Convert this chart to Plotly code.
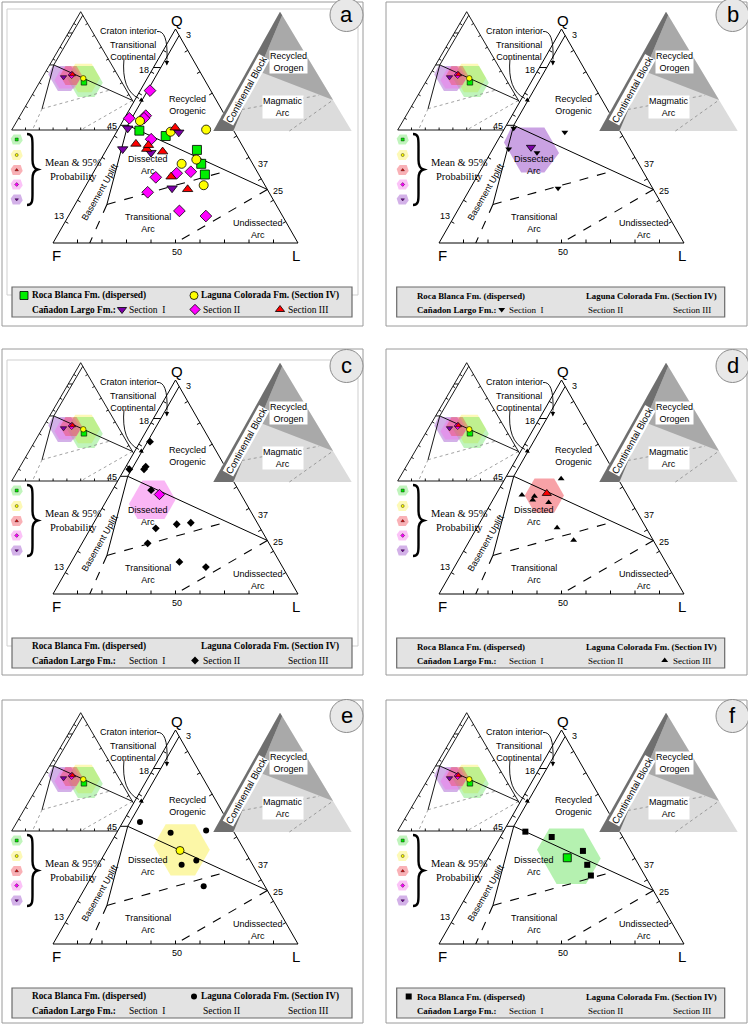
import plotly.graph_objects as go

W, H = 748, 1027

# ---------------- data : Q, F, L (%) ----------------
RB_Q = [52.5, 50.0, 43.5, 37.0, 32.0]
RB_F = [38.5, 29.0, 19.5, 21.0, 22.0]
RB_L = [9.0, 21.0, 37.0, 42.0, 46.0]

LC_Q = [57.0, 52.0, 53.0, 39.0, 37.0, 27.0]
LC_F = [36.0, 26.0, 11.0, 22.0, 29.0, 25.0]
LC_L = [7.0, 22.0, 36.0, 39.0, 34.0, 48.0]

S1_Q = [53.6, 51.7, 43.9, 42.2, 25.6]
S1_F = [42.7, 22.8, 49.6, 38.9, 38.6]
S1_L = [3.7, 25.5, 6.5, 18.9, 35.8]

S2_Q = [71.2, 58.3, 59.5, 58.3, 48.5, 30.7, 32.6, 33.3, 23.7, 15.0, 12.6]
S2_F = [24.8, 39.7, 32.4, 33.7, 35.7, 42.7, 33.2, 27.1, 49.5, 40.9, 31.3]
S2_L = [4.0, 2.0, 8.1, 8.0, 15.8, 26.6, 34.2, 39.6, 26.8, 44.1, 56.1]

S3_Q = [53.9, 46.3, 43.9, 45.7, 42.7, 31.0, 25.1]
S3_F = [23.2, 43.0, 39.8, 38.2, 33.9, 36.3, 32.5]
S3_L = [22.9, 10.7, 16.3, 16.1, 23.4, 32.7, 42.4]

GROUPS = ["RB", "LC", "S1", "S2", "S3"]
MEAN_Q = [40.3, 43.7, 44.7, 46.5, 47.0]
MEAN_F = [27.5, 26.3, 40.1, 33.3, 32.5]
MEAN_L = [32.2, 30.0, 15.2, 20.2, 20.5]

# 95% probability regions (hexagon vertices)
HEX_RB_Q = [54, 54, 40, 28, 28, 44]
HEX_RB_F = [28, 14, 14, 26, 38, 38]
HEX_RB_L = [18, 32, 46, 46, 34, 18]
HEX_LC_Q = [56, 56, 44, 32, 32, 46]
HEX_LC_F = [26, 14, 14, 26, 36, 36]
HEX_LC_L = [18, 30, 42, 42, 32, 18]
HEX_S1_Q = [54, 54, 42, 33, 33, 47]
HEX_S1_F = [43.5, 30, 30, 40.5, 50, 50]
HEX_S1_L = [2.5, 16, 28, 26.5, 17, 3]
HEX_S2_Q = [53, 53, 44, 35, 35, 42]
HEX_S2_F = [37, 28, 28, 37, 48, 48]
HEX_S2_L = [10, 19, 28, 28, 17, 10]
HEX_S3_Q = [54, 54, 46, 38, 38, 46]
HEX_S3_F = [34, 26, 26, 34, 42, 42]
HEX_S3_L = [12, 20, 28, 28, 20, 12]

# Dickinson QFL field boundaries (Q, F, L)
FIELD_SOLID = [[(97, 0, 3), (55, 42, 3)], [(82, 18, 0), (82, 15, 3)],
               [(55, 45, 0), (55, 42, 3)], [(55, 42, 3), (25, 0, 75)],
               [(55, 42, 3), (18, 69, 13)]]
FIELD_DASH = [[(18, 69, 13), (0, 85, 15)], [(18, 69, 13), (33.7, 12.1, 54.2)],
              [(25, 0, 75), (0, 50, 50)]]

PANEL_LETTERS = ["a", "b", "c", "d", "e", "f"]
PANEL_GROUP = [None, "S1", "S2", "S3", "LC", "RB"]

DATA = {"RB": (RB_Q, RB_F, RB_L), "LC": (LC_Q, LC_F, LC_L), "S1": (S1_Q, S1_F, S1_L),
        "S2": (S2_Q, S2_F, S2_L), "S3": (S3_Q, S3_F, S3_L)}
HEXES = {"RB": (HEX_RB_Q, HEX_RB_F, HEX_RB_L), "LC": (HEX_LC_Q, HEX_LC_F, HEX_LC_L),
         "S1": (HEX_S1_Q, HEX_S1_F, HEX_S1_L), "S2": (HEX_S2_Q, HEX_S2_F, HEX_S2_L),
         "S3": (HEX_S3_Q, HEX_S3_F, HEX_S3_L)}

# ---------------- styles ----------------
SANS = "Arial, 'Liberation Sans', sans-serif"
SERIF = "'Times New Roman', 'Liberation Serif', serif"
SYM = {"RB": "square", "LC": "circle", "S1": "triangle-down", "S2": "diamond", "S3": "triangle-up"}
COL = {"RB": "#00ee00", "LC": "#ffff00", "S1": "#7d00aa", "S2": "#ff00ff", "S3": "#ff0000"}
HFILL = {"RB": "rgba(90,225,80,0.38)", "LC": "rgba(250,240,80,0.42)", "S1": "rgba(150,70,200,0.42)",
         "S2": "rgba(245,110,235,0.42)", "S3": "rgba(240,70,80,0.42)"}

MAIN = {"Q": (175.5, 29.0), "F": (53.0, 243.0), "L": (298.0, 243.0)}
INSET = {"Q": (80.7, 11.7), "F": (11.7, 130.0), "L": (149.7, 130.0)}
CBT = {"Q": (280.0, 11.7), "F": (213.3, 131.0), "L": (351.7, 131.0)}

OFFX = [0, 386, 0, 386, 0, 386]
OFFY = [0, 0, 351, 351, 701, 701]
BORDER = [(2, 2, 363, 326), (386, 2, 747, 326), (2, 349, 363, 675),
          (386, 349, 747, 675), (2, 700, 363, 1023), (386, 700, 747, 1023)]

fig = go.Figure()
shapes = []
anns = []


def tp(tri, q, f, l, ox, oy):
    s = q + f + l
    x = (tri["Q"][0] * q + tri["F"][0] * f + tri["L"][0] * l) / s + ox
    y = (tri["Q"][1] * q + tri["F"][1] * f + tri["L"][1] * l) / s + oy
    return x, y


def lines(segs, color="black", width=1.0, dash="solid"):
    xs, ys = [], []
    for sg in segs:
        for (x, y) in sg:
            xs.append(x)
            ys.append(y)
        xs.append(None)
        ys.append(None)
    fig.add_trace(go.Scatter(x=xs, y=ys, mode="lines", hoverinfo="skip",
                             line=dict(color=color, width=width, dash=dash)))


def poly(pts, fill, lc="rgba(0,0,0,0)", lw=0):
    xs = [p[0] for p in pts] + [pts[0][0]]
    ys = [p[1] for p in pts] + [pts[0][1]]
    fig.add_trace(go.Scatter(x=xs, y=ys, mode="lines", fill="toself", fillcolor=fill,
                             hoverinfo="skip", line=dict(color=lc, width=lw)))


def markers(xs, ys, sym, color, size, lw=0.8):
    fig.add_trace(go.Scatter(x=xs, y=ys, mode="markers", hoverinfo="skip",
                             marker=dict(symbol=sym, color=color, size=size,
                                         line=dict(color="black", width=lw))))


def txt(x, y, s, size=9, family=SANS, xa="center", ya="middle", angle=0, bg=None, color="black"):
    d = dict(x=x, y=y, xref="x", yref="y", text=s, showarrow=False,
             font=dict(size=size, family=family, color=color), xanchor=xa, yanchor=ya,
             textangle=angle, borderpad=0)
    if bg:
        d["bgcolor"] = bg
    anns.append(d)


def ticks(tri, ox, oy, n=10, ln=3.5):
    cs = [tri["F"], tri["L"], tri["Q"]]
    cx = sum(c[0] for c in cs) / 3
    cy = sum(c[1] for c in cs) / 3
    segs = []
    for a, b in [(tri["F"], tri["L"]), (tri["L"], tri["Q"]), (tri["Q"], tri["F"])]:
        dx, dy = b[0] - a[0], b[1] - a[1]
        d = (dx * dx + dy * dy) ** 0.5
        nx, ny = -dy / d, dx / d
        for i in range(1, n):
            t = i / n
            px, py = a[0] + t * dx, a[1] + t * dy
            if (cx - px) * nx + (cy - py) * ny < 0:
                nx, ny = -nx, -ny
            segs.append([(px + ox, py + oy), (px + ox + nx * ln, py + oy + ny * ln)])
    return segs


def outline(tri, ox, oy):
    pts = [tri["Q"], tri["F"], tri["L"], tri["Q"]]
    return [[(p[0] + ox, p[1] + oy) for p in pts]]


for k in range(6):
    ox, oy = OFFX[k], OFFY[k]
    grp = PANEL_GROUP[k]
    bx0, by0, bx1, by1 = BORDER[k]
    shapes.append(dict(type="rect", x0=bx0, y0=by0, x1=bx1, y1=by1, xref="x", yref="y",
                       line=dict(color="#9a9a9a", width=1), layer="below"))
    if k in (0, 2):
        shapes.append(dict(type="rect", x0=7 + ox, y0=9 + oy, x1=358 + ox, y1=295 + oy,
                           xref="x", yref="y", line=dict(color="#cfcfcf", width=1), layer="below"))

    # ---------- inset (means & 95% regions) ----------
    poly([tp(INSET, *p, ox, oy) for p in [(100, 0, 0), (0, 100, 0), (0, 0, 100)]], "white")
    for g in ["S1", "LC", "RB", "S2", "S3"]:
        hq, hf, hl = HEXES[g]
        poly([tp(INSET, hq[i], hf[i], hl[i], ox, oy) for i in range(len(hq))], HFILL[g])
    lines([[tp(INSET, *a, ox, oy), tp(INSET, *b, ox, oy)] for a, b in FIELD_DASH],
          color="#8a8a8a", width=0.8, dash="dot")
    lines([[tp(INSET, *a, ox, oy), tp(INSET, *b, ox, oy)] for a, b in FIELD_SOLID]
          + outline(INSET, ox, oy) + ticks(INSET, ox, oy, ln=2.5), width=0.9)
    for i, g in enumerate(GROUPS):
        x, y = tp(INSET, MEAN_Q[i], MEAN_F[i], MEAN_L[i], ox, oy)
        markers([x], [y], SYM[g], COL[g], 5.5, 0.6)

    # ---------- main QFL triangle ----------
    poly([tp(MAIN, *p, ox, oy) for p in [(100, 0, 0), (0, 100, 0), (0, 0, 100)]], "white")
    if grp:
        hq, hf, hl = HEXES[grp]
        poly([tp(MAIN, hq[i], hf[i], hl[i], ox, oy) for i in range(len(hq))],
             HFILL[grp].replace("0.42", "0.5").replace("0.38", "0.45"))
    lines([[tp(MAIN, *a, ox, oy), tp(MAIN, *b, ox, oy)] for a, b in FIELD_DASH],
          width=1.1, dash="dash")
    lines([[tp(MAIN, *a, ox, oy), tp(MAIN, *b, ox, oy)] for a, b in FIELD_SOLID]
          + outline(MAIN, ox, oy) + ticks(MAIN, ox, oy, ln=3.5), width=1.0)

    # points
    if grp is None:
        for g in ["S2", "RB", "LC", "S1", "S3"]:
            q, f, l = DATA[g]
            pts = [tp(MAIN, q[i], f[i], l[i], ox, oy) for i in range(len(q))]
            markers([p[0] for p in pts], [p[1] for p in pts], SYM[g], COL[g], 9, 0.8)
    else:
        q, f, l = DATA[grp]
        pts = [tp(MAIN, q[i], f[i], l[i], ox, oy) for i in range(len(q))]
        markers([p[0] for p in pts], [p[1] for p in pts], SYM[grp], "black", 6, 0)
        gi = GROUPS.index(grp)
        x, y = tp(MAIN, MEAN_Q[gi], MEAN_F[gi], MEAN_L[gi], ox, oy)
        markers([x], [y], SYM[grp], COL[grp], 8, 0.8)

    # ---------- tectonic setting triangle ----------
    poly([tp(CBT, *p, ox, oy) for p in [(100, 0, 0), (0, 100, 0), (0, 0, 100)]], "#dcdcdc")
    poly([tp(CBT, *p, ox, oy) for p in [(97, 0, 3), (50, 41.4, 8.6), (26, 0, 74)]], "#a9a9a9")
    poly([tp(CBT, *p, ox, oy) for p in [(100, 0, 0), (0, 100, 0), (0, 85.5, 14.5), (97, 0, 3)]], "#6f6f6f")
    lines([[tp(CBT, 18, 70, 12, ox, oy), tp(CBT, 30, 8, 62, ox, oy)],
           [tp(CBT, 0, 45, 55, ox, oy), tp(CBT, 26, 0, 74, ox, oy)]], color="#8a8a8a", width=0.8, dash="dot")
    txt(288 + ox, 62 + oy, "Recycled<br>Orogen", 9, bg="white")
    txt(283.3 + ox, 106.7 + oy, "Magmatic<br>Arc", 9, bg="white")
    txt(245.5 + ox, 90 + oy, "Continental Block", 9.5, angle=-61, bg="white")

    # ---------- main labels ----------
    txt(177 + ox, 20 + oy, "Q", 15)
    txt(56.7 + ox, 255 + oy, "F", 15)
    txt(295.7 + ox, 255 + oy, "L", 15)
    for s, x, y in [("3", 188, 35), ("18", 144.3, 70), ("45", 111.7, 126), ("13", 59.3, 216),
                    ("37", 263.3, 164.3), ("25", 278.3, 191), ("50", 176.7, 252.3)]:
        txt(x + ox, y + oy, s, 9)
    txt(128.3 + ox, 30.7 + oy, "Craton interior", 9)
    txt(132.7 + ox, 50.7 + oy, "Transitional<br>Continental", 9)
    txt(187.3 + ox, 105 + oy, "Recycled<br>Orogenic", 9)
    txt(148.3 + ox, 165 + oy, "Dissected<br>Arc", 9)
    txt(147.7 + ox, 223.3 + oy, "Transitional<br>Arc", 9)
    txt(257.7 + ox, 229.3 + oy, "Undissected<br>Arc", 9)
    txt(100 + ox, 192 + oy, "Basement Uplift", 9, angle=-60)

    # arrows
    shapes.append(dict(type="path", xref="x", yref="y", layer="above",
                       path=f"M {157+ox},{31.5+oy} Q {168+ox},{30+oy} {167+ox},{59+oy}",
                       line=dict(color="black", width=0.9)))
    anns.append(dict(x=166.8 + ox, y=65.5 + oy, ax=167 + ox, ay=58 + oy, xref="x", yref="y",
                     axref="x", ayref="y", text="", showarrow=True, arrowhead=2,
                     arrowsize=1, arrowwidth=0.9, arrowcolor="black"))
    shapes.append(dict(type="path", xref="x", yref="y", layer="above",
                       path=f"M {124+ox},{58.5+oy} Q {121+ox},{90+oy} {139+ox},{98.5+oy}",
                       line=dict(color="black", width=0.9)))
    anns.append(dict(x=143.8 + ox, y=101.8 + oy, ax=138.5 + ox, ay=98.2 + oy, xref="x", yref="y",
                     axref="x", ayref="y", text="", showarrow=True, arrowhead=2,
                     arrowsize=1, arrowwidth=0.9, arrowcolor="black"))

    # ---------- mean & 95% key ----------
    for j, g in enumerate(["RB", "LC", "S3", "S2", "S1"]):
        cy = [139.5, 155, 170, 184.5, 199.5][j] + oy
        cx = 16.7 + ox
        hexp = [(cx - 6, cy - 1), (cx - 3, cy - 5), (cx + 4, cy - 5), (cx + 6, cy + 1),
                (cx + 3, cy + 5), (cx - 4, cy + 5)]
        poly(hexp, HFILL[g])
        markers([cx], [cy], SYM[g], COL[g], 3, 0.4)
    shapes.append(dict(type="path", xref="x", yref="y", layer="above",
                       path=(f"M {27+ox},{134+oy} C {33+ox},{134+oy} {32.5+ox},{139+oy} {32.5+ox},{149+oy} "
                             f"L {32.5+ox},{160+oy} C {32.5+ox},{166+oy} {34+ox},{168.5+oy} {37.5+ox},{169.5+oy} "
                             f"C {34+ox},{170.5+oy} {32.5+ox},{173+oy} {32.5+ox},{179+oy} "
                             f"L {32.5+ox},{191+oy} C {32.5+ox},{200+oy} {33+ox},{205+oy} {27+ox},{205+oy}"),
                       line=dict(color="black", width=2.4)))
    txt(44 + ox, 169.5 + oy, "Mean &amp; 95%<br>Probability", 10.5, family=SERIF, xa="left")

    # ---------- letter circle ----------
    shapes.append(dict(type="circle", xref="x", yref="y", x0=330 + ox, y0=-1.5 + oy,
                       x1=363 + ox, y1=31.5 + oy, fillcolor="#e8e8e8",
                       line=dict(color="#8c8c8c", width=1), layer="above"))
    txt(346.5 + ox, 14.5 + oy, PANEL_LETTERS[k], 22)

    # ---------- legend box ----------
    left_col = (k % 2 == 0)
    bxl = 12 + ox if left_col else 10.7 + ox
    bxr = 352 + ox if left_col else 338.7 + ox
    fs = 9.3 if left_col else 8.8
    shapes.append(dict(type="rect", xref="x", yref="y", x0=bxl, y0=287 + oy, x1=bxr, y1=317 + oy,
                       fillcolor="#e3e3e3", line=dict(color="#6a6a6a", width=1.2), layer="below"))
    r1, r2 = 295.5 + oy, 309.5 + oy
    s1x = 116 if left_col else 111
    txt(bxl + 19, r1, "<b>Roca Blanca Fm. (dispersed)</b>", fs, family=SERIF, xa="left")
    txt(bxl + 188, r1, "<b>Laguna Colorada Fm. (Section IV)</b>", fs, family=SERIF, xa="left")
    txt(bxl + 19, r2, "<b>Cañadon Largo Fm.:</b>", fs, family=SERIF, xa="left")
    txt(bxl + s1x, r2, "Section  I", fs + 0.2, family=SERIF, xa="left")
    txt(bxl + 190, r2, "Section II", fs + 0.2, family=SERIF, xa="left")
    txt(bxl + 275, r2, "Section III", fs + 0.2, family=SERIF, xa="left")
    legpos = {"RB": (bxl + 12, r1), "LC": (bxl + 182, r1), "S1": (bxl + s1x - 6, r2),
              "S2": (bxl + 183, r2), "S3": (bxl + 268, r2)}
    for g in GROUPS:
        if grp is None:
            markers([legpos[g][0]], [legpos[g][1]], SYM[g], COL[g], 8, 0.8)
        elif g == grp:
            markers([legpos[g][0]], [legpos[g][1]], SYM[g], "black", 6, 0)

fig.update_layout(
    width=W, height=H, margin=dict(l=0, r=0, t=0, b=0),
    paper_bgcolor="white", plot_bgcolor="white", showlegend=False,
    xaxis=dict(range=[0, W], visible=False, fixedrange=True),
    yaxis=dict(range=[H, 0], visible=False, fixedrange=True),
    shapes=shapes, annotations=anns,
)
fig.write_html("out.html", config={"displayModeBar": False, "staticPlot": True},
               post_script="document.body.style.margin='0';document.body.style.overflow='hidden';")
